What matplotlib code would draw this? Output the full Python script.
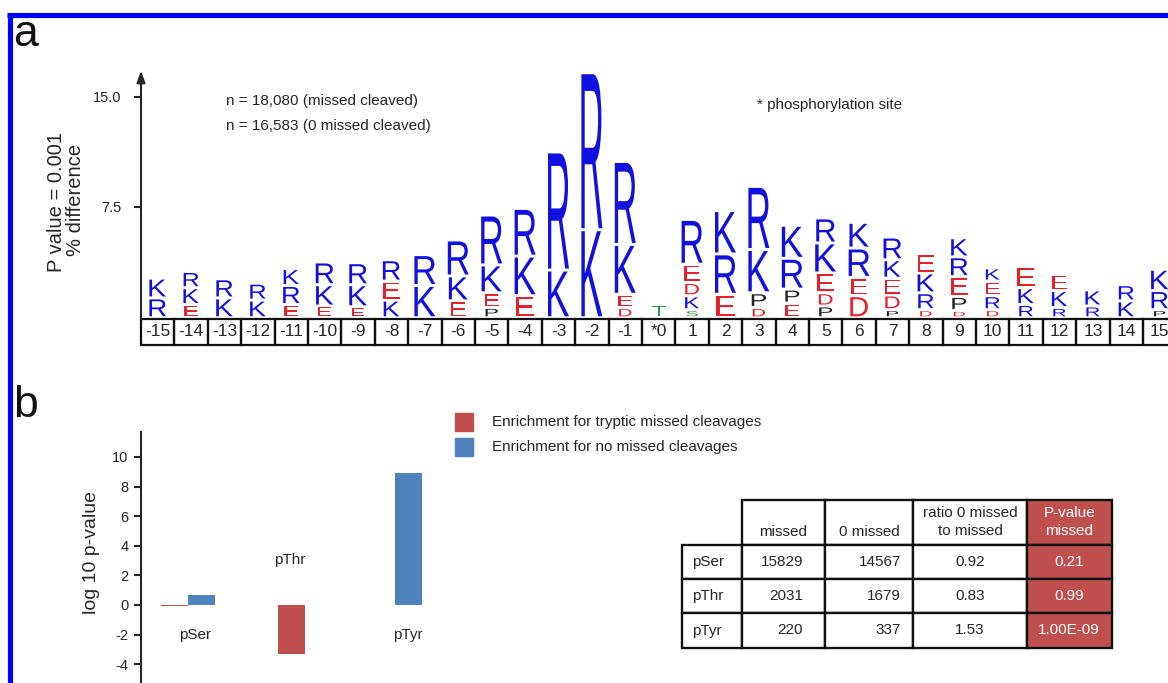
import numpy as np
import matplotlib
matplotlib.use("Agg")
import matplotlib.pyplot as plt
from matplotlib.textpath import TextPath
from matplotlib.font_manager import FontProperties
from matplotlib.patches import PathPatch, Rectangle
from matplotlib.transforms import Affine2D

plt.rcParams['font.family'] = ['Liberation Sans', 'DejaVu Sans']
plt.rcParams['axes.unicode_minus'] = False

# ---- panel a: sequence logo (% difference, stacked bottom -> top) ----
positions = list(range(-15, 16))
pos_labels = [str(p) if p != 0 else '*0' for p in positions]
logo_letters = [
    "RK", "EKR", "KR", "KR", "ERK", "EKR", "EKR", "KER", "KR", "EKR",
    "PEKR", "EKR", "KR", "KR", "DEKR", "T",
    "SKDER", "ERK", "DPKR", "EPRK", "PDEKR", "DERK", "PDEKR", "DRKE",
    "DPERK", "DREK", "RKE", "RKE", "RK", "KR", "PRK",
]
logo_heights = [
    [1.35, 1.35], [0.9, 1.15, 1.1], [1.35, 1.3], [1.2, 1.15], [0.9, 1.3, 1.15],
    [0.8, 1.45, 1.55], [0.75, 1.5, 1.5], [1.2, 1.3, 1.45], [2.2, 2.1], [1.15, 1.7, 2.45],
    [0.7, 1.0, 1.9, 3.4], [1.5, 2.7, 3.25], [3.25, 8.05], [6.0, 10.7], [0.7, 0.9, 3.4, 5.65],
    [0.9],
    [0.55, 0.95, 0.9, 1.25, 3.05], [1.6, 2.75, 2.95], [0.7, 1.0, 2.95, 4.3], [1.0, 0.95, 2.1, 2.25],
    [0.8, 0.9, 1.35, 2.05, 1.7], [1.5, 1.25, 2.0, 1.75], [0.55, 1.0, 1.15, 1.25, 1.55],
    [0.55, 1.15, 1.35, 1.35], [0.5, 0.95, 1.35, 1.35, 1.3], [0.55, 0.95, 1.0, 0.9],
    [0.9, 1.15, 1.45], [0.7, 1.15, 1.1], [0.8, 1.1], [1.15, 1.1], [0.55, 1.3, 1.45],
]
letter_colors = {'K': '#1010e0', 'R': '#1010e0', 'E': '#e8202a', 'D': '#e8202a',
                 'P': '#222222', 'T': '#2a9a3a', 'S': '#2a9a3a'}

# ---- panel b: log10 p-values ----
ptm_types = ['pSer', 'pThr', 'pTyr']
missed_enrich = [-0.1, -3.3, 0.0]
nomissed_enrich = [0.68, 0.02, 8.9]

# ---- table ----
table_cols = ['missed', '0 missed', 'ratio 0 missed\nto missed', 'P-value\nmissed']
missed_counts = [15829, 2031, 220]
zero_counts = [14567, 1679, 337]
ratios = [0.92, 0.83, 1.53]
pvalues = ['0.21', '0.99', '1.00E-09']

W, H = 1168, 683
def fx(px):
    return px / W
def fy(py):
    return 1 - py / H

fig = plt.figure(figsize=(W / 100, H / 100), dpi=100)
fig.patch.set_facecolor('white')
txt = '#262626'
red = '#c0504d'
blue = '#4f81bd'

# ---------------- panel a ----------------
PX_UNIT = 14.67   # pixels per % unit
PX_POS = 33.4     # pixels per position
ax_a = fig.add_axes([fx(141), fy(346), 31 * PX_POS / W, (346 - 70) / H])
ax_a.set_xlim(-15.5, 15.5)
ax_a.set_ylim(-(346 - 317) / PX_UNIT, (317 - 70) / PX_UNIT)
for s in ax_a.spines.values():
    s.set_visible(False)
ax_a.set_xticks([])
ax_a.set_yticks([7.5, 15.0])
ax_a.set_yticklabels(['7.5', '15.0'])
ax_a.tick_params(axis='y', length=5, width=1.5, color=txt, labelsize=10.5,
                 labelcolor=txt, pad=9)
ax_a.annotate('', xy=(-15.5, 16.8), xytext=(-15.5, -0.14),
              arrowprops=dict(arrowstyle='-|>,head_length=0.7,head_width=0.25',
                              color=txt, lw=1.5, shrinkA=0, shrinkB=0),
              annotation_clip=False)

glyph_font = FontProperties(family='Liberation Sans')

def draw_glyph(ax, ch, xc, y, h, color):
    tp = TextPath((0, 0), ch, size=1, prop=glyph_font)
    bb = tp.get_extents()
    w = min(21, 9 + 0.45 * h * PX_UNIT) / PX_POS
    tr = Affine2D().translate(-bb.x0, -bb.y0).scale(w / bb.width, h / bb.height) \
        .translate(xc - w / 2, y)
    ax.add_patch(PathPatch(tr.transform_path(tp), facecolor=color,
                           edgecolor='none', lw=0, clip_on=False))

gap = 0.2
for p, letters, heights in zip(positions, logo_letters, logo_heights):
    y0 = 0.05
    for ch, h in zip(letters, heights):
        draw_glyph(ax_a, ch, p, y0, h - gap, letter_colors[ch])
        y0 += h

box_bot = -(345 - 317) / PX_UNIT
box_top = -(319 - 317) / PX_UNIT
for p, lab in zip(positions, pos_labels):
    ax_a.add_patch(Rectangle((p - 0.5, box_bot), 1, box_top - box_bot, fill=False,
                             ec='#111111', lw=1.6, clip_on=False))
    ax_a.text(p, (box_bot + box_top) / 2, lab, ha='center', va='center',
              fontsize=12.5, color=txt, clip_on=False)

fig.text(fx(57), fy(202), 'P value = 0.001', rotation=90, ha='center', va='center',
         fontsize=14.5, color=txt)
fig.text(fx(75), fy(200), '% difference', rotation=90, ha='center', va='center',
         fontsize=14.5, color=txt)
fig.text(fx(226), fy(101), 'n = 18,080 (missed cleaved)', fontsize=11, va='center', color=txt)
fig.text(fx(226), fy(126), 'n = 16,583 (0 missed cleaved)', fontsize=11, va='center', color=txt)
fig.text(fx(757), fy(105), '* phosphorylation site', fontsize=11, va='center', color=txt)

# ---------------- panel b ----------------
PX_B = 14.8
grp_pos = np.array([0, 1, 1.77])
bw = 27 / 117
ax_b = fig.add_axes([fx(141), 0, (460 - 141) / W, (683 - 432) / H])
ax_b.set_xlim(-(188 - 141) / 117, (460 - 188) / 117)
ax_b.set_ylim(-(683 - 605) / PX_B, (605 - 432) / PX_B)
ax_b.bar(grp_pos - bw / 2, missed_enrich, bw, color=red)
ax_b.bar(grp_pos + bw / 2, nomissed_enrich, bw, color=blue)
for s in ['top', 'right', 'bottom']:
    ax_b.spines[s].set_visible(False)
ax_b.spines['left'].set_color(txt)
ax_b.spines['left'].set_linewidth(1.5)
ax_b.set_xticks([])
ax_b.set_yticks(range(-4, 11, 2))
ax_b.tick_params(axis='y', length=5, width=1.5, color=txt, labelsize=10.5,
                 labelcolor=txt, pad=4)
label_xy = [(0.06, -2.03), (0.87, 3.04), (1.88, -2.03)]
for name, (lx, ly) in zip(ptm_types, label_xy):
    ax_b.text(lx, ly, name, ha='center', va='center', fontsize=11, color=txt)
fig.text(fx(92), fy(553), 'log 10 p-value', rotation=90, ha='center', va='center',
         fontsize=14, color=txt)

# ---------------- overlay: border, letters, legend, table ----------------
ov = fig.add_axes([0, 0, 1, 1])
ov.set_xlim(0, W)
ov.set_ylim(H, 0)
ov.axis('off')
ov.patch.set_visible(False)

ov.plot([7, W], [14.5, 14.5], color='#0000ff', lw=3.7, solid_capstyle='butt')
ov.plot([9.5, 9.5], [12.5, H], color='#0000ff', lw=3.7, solid_capstyle='butt')
ov.text(13, 46, 'a', fontsize=32, va='baseline', ha='left', color='#111111')
ov.text(13, 417, 'b', fontsize=32, va='baseline', ha='left', color='#111111')

ov.add_patch(Rectangle((455, 413), 18, 18, color=red))
ov.add_patch(Rectangle((455, 438), 18, 18, color=blue))
ov.text(492, 422, 'Enrichment for tryptic missed cleavages', fontsize=11, va='center', color=txt)
ov.text(492, 447, 'Enrichment for no missed cleavages', fontsize=11, va='center', color=txt)

col_x = [682, 742, 825, 913, 1027, 1112]
row_y = [500, 545, 579, 613, 648]
for j in range(1, 5):
    ov.add_patch(Rectangle((col_x[j], row_y[0]), col_x[j + 1] - col_x[j], row_y[1] - row_y[0],
                           fc=red if j == 4 else 'white', ec='#111111', lw=1.7))
for i in range(3):
    for j in range(5):
        ov.add_patch(Rectangle((col_x[j], row_y[i + 1]), col_x[j + 1] - col_x[j],
                               row_y[i + 2] - row_y[i + 1],
                               fc=red if j == 4 else 'white', ec='#111111', lw=1.7))

for j, head in enumerate(table_cols):
    cx = (col_x[j + 1] + col_x[j + 2]) / 2
    cy = 532 if '\n' not in head else 522
    ov.text(cx, cy, head, ha='center', va='center', fontsize=11, linespacing=1.3,
            color='white' if j == 3 else txt)
for i, name in enumerate(ptm_types):
    cy = (row_y[i + 1] + row_y[i + 2]) / 2
    ov.text(692, cy, name, ha='left', va='center', fontsize=11, color=txt)
    ov.text(803, cy, str(missed_counts[i]), ha='right', va='center', fontsize=11, color=txt)
    ov.text(901, cy, str(zero_counts[i]), ha='right', va='center', fontsize=11, color=txt)
    ov.text(970, cy, f'{ratios[i]:.2f}', ha='center', va='center', fontsize=11, color=txt)
    ov.text(1069, cy, pvalues[i], ha='center', va='center', fontsize=11, color='white')

fig.savefig('out.png', dpi=100)
